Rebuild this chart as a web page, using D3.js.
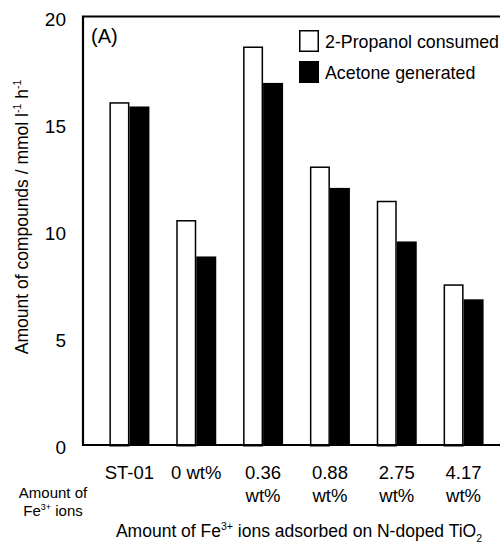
<!DOCTYPE html>
<html>
<head>
<meta charset="utf-8">
<script src="https://cdn.jsdelivr.net/npm/d3@7"></script>
<style>
  html, body { margin: 0; padding: 0; background: #fff; }
  svg { display: block; font-family: "Liberation Sans", Arial, Helvetica, sans-serif; }
</style>
</head>
<body>
<svg id="chart" width="500" height="543"></svg>
<script>
// Samples (Fe3+ loading on N-doped TiO2) and measured rates, mmol l^-1 h^-1
const categories = ["ST-01", "0 wt%", "0.36 wt%", "0.88 wt%", "2.75 wt%", "4.17 wt%"];
const categoryLines = [["ST-01"], ["0 wt%"], ["0.36", "wt%"], ["0.88", "wt%"], ["2.75", "wt%"], ["4.17", "wt%"]];
const seriesNames = ["2-Propanol consumed", "Acetone generated"];
const propanolConsumed = [16.0, 10.5, 18.6, 13.0, 11.4, 7.5];
const acetoneGenerated = [15.8, 8.8, 16.9, 12.0, 9.5, 6.8];
const yTicks = [0, 5, 10, 15, 20];

const svg = d3.select("#chart");

const frame = { left: 83, right: 500, top: 16.5, bottom: 445 };

const x = d3.scaleBand().domain(categories).range([96, 497]).padding(0);
const xInner = d3.scaleBand().domain(seriesNames).range([-20, 20]).padding(0);
const y = d3.scaleLinear().domain([0, 20]).range([frame.bottom, frame.top]);

const rows = categories.map((c, i) => ({
  category: c,
  values: [
    { series: seriesNames[0], value: propanolConsumed[i] },
    { series: seriesNames[1], value: acetoneGenerated[i] }
  ]
}));

// bars
const groups = svg.append("g").selectAll("g")
  .data(rows).join("g")
  .attr("transform", d => `translate(${x(d.category) + x.bandwidth() / 2},0)`);

groups.selectAll("rect")
  .data(d => d.values).join("rect")
  .attr("x", d => xInner(d.series) + (d.series === seriesNames[0] ? 0.75 : 0))
  .attr("width", d => xInner.bandwidth() - (d.series === seriesNames[0] ? 1.5 : 0))
  .attr("y", d => y(d.value) + (d.series === seriesNames[0] ? 0.75 : 0))
  .attr("height", d => frame.bottom - y(d.value))
  .attr("fill", d => d.series === seriesNames[0] ? "#fff" : "#000")
  .attr("stroke", d => d.series === seriesNames[0] ? "#000" : "none")
  .attr("stroke-width", 1.5);

// frame lines: left, top, bottom
svg.append("path")
  .attr("d", `M${frame.right},${frame.top}H${frame.left}V${frame.bottom}H${frame.right}`)
  .attr("fill", "none")
  .attr("stroke", "#000")
  .attr("stroke-width", 2.2);

// y axis labels
const yAxis = d3.axisLeft(y).tickValues(yTicks).tickSize(0).tickPadding(17).tickFormat(d3.format("d"));
const gy = svg.append("g").attr("transform", `translate(${frame.left},0)`).call(yAxis);
gy.select(".domain").remove();
gy.selectAll("text")
  .attr("font-size", 19)
  .attr("font-family", "Liberation Sans, Arial, sans-serif")
  .attr("fill", "#000")
  .attr("dy", "0.45em");

// x axis labels (multi-line)
const xAxis = d3.axisBottom(x).tickSize(0).tickFormat("");
const gx = svg.append("g").attr("transform", `translate(0,${frame.bottom})`).call(xAxis);
gx.select(".domain").remove();
gx.selectAll(".tick").each(function (d, i) {
  const t = d3.select(this).append("text")
    .attr("text-anchor", "middle")
    .attr("font-size", 18.5)
    .attr("font-family", "Liberation Sans, Arial, sans-serif")
    .attr("fill", "#000");
  categoryLines[i].forEach((line, j) => {
    t.append("tspan").attr("x", 0).attr("y", 34 + j * 23).text(line);
  });
});

// row label at left under the axis
const rowLabel = svg.append("text")
  .attr("text-anchor", "middle")
  .attr("font-size", 15)
  .attr("fill", "#000");
rowLabel.append("tspan").attr("x", 53).attr("y", 498).text("Amount of");
const rl2 = rowLabel.append("tspan").attr("x", 53).attr("y", 516);
rl2.append("tspan").text("Fe");
rl2.append("tspan").attr("font-size", 9).attr("dy", -6).text("3+");
rl2.append("tspan").attr("dy", 6).text(" ions");

// x axis title
const xTitle = svg.append("text")
  .attr("x", 299).attr("y", 537)
  .attr("text-anchor", "middle")
  .attr("font-size", 17.5)
  .attr("fill", "#000");
xTitle.append("tspan").text("Amount of Fe");
xTitle.append("tspan").attr("font-size", 10.5).attr("dy", -7).text("3+");
xTitle.append("tspan").attr("dy", 7).text(" ions adsorbed on N-doped TiO");
xTitle.append("tspan").attr("font-size", 10.5).attr("dy", 5).text("2");

// y axis title
const yTitle = svg.append("text")
  .attr("transform", "translate(28,217) rotate(-90)")
  .attr("text-anchor", "middle")
  .attr("font-size", 17.5)
  .attr("fill", "#000");
yTitle.append("tspan").text("Amount of compounds / mmol l");
yTitle.append("tspan").attr("font-size", 10.5).attr("dy", -7).text("-1");
yTitle.append("tspan").attr("dy", 7).text(" h");
yTitle.append("tspan").attr("font-size", 10.5).attr("dy", -7).text("-1");

// panel tag
svg.append("text")
  .attr("x", 91).attr("y", 43)
  .attr("font-size", 20)
  .attr("fill", "#000")
  .text("(A)");

// legend
const legend = svg.append("g").attr("transform", "translate(299,30)");
const legendRows = legend.selectAll("g").data(seriesNames).join("g")
  .attr("transform", (d, i) => `translate(0,${i * 31})`);
legendRows.append("rect")
  .attr("x", d => d === seriesNames[0] ? 0.75 : 0)
  .attr("y", d => d === seriesNames[0] ? 0.75 : 0)
  .attr("width", d => d === seriesNames[0] ? 18.5 : 20)
  .attr("height", d => d === seriesNames[0] ? 20.5 : 22)
  .attr("fill", d => d === seriesNames[0] ? "#fff" : "#000")
  .attr("stroke", d => d === seriesNames[0] ? "#000" : "none")
  .attr("stroke-width", 1.5);
legendRows.append("text")
  .attr("x", 26).attr("y", 18)
  .attr("font-size", 17.8)
  .attr("fill", "#000")
  .text(d => d);
</script>
</body>
</html>
